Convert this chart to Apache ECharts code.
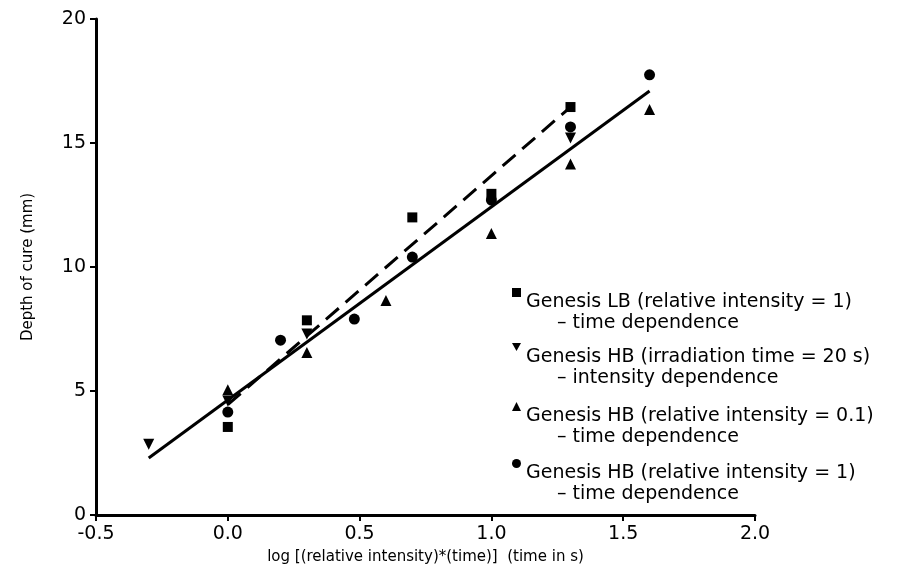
<!DOCTYPE html>
<html>
<head>
<meta charset="utf-8">
<script src="https://cdn.jsdelivr.net/npm/echarts@6/dist/echarts.min.js"></script>
<style>
  html, body { margin: 0; padding: 0; background: #fff; }
  #chart { width: 901px; height: 573px; }
</style>
</head>
<body>
<div id="chart"></div>
<script>
// Depth of cure versus log of light dose, four Genesis series plus two fit lines.
const seriesNames = [
  'Genesis LB (relative intensity = 1)',
  'Genesis HB (irradiation time = 20 s)',
  'Genesis HB (relative intensity = 0.1)',
  'Genesis HB (relative intensity = 1)'
];
const seriesSubtitles = [
  '– time dependence',
  '– intensity dependence',
  '– time dependence',
  '– time dependence'
];

// Genesis LB, relative intensity 1 (squares)
const lbTimeX = [0.0, 0.3, 0.7, 1.0, 1.3];
const lbTimeY = [3.55, 7.85, 12.0, 12.95, 16.45];
// Genesis HB, 20 s irradiation, varying intensity (down triangles)
const hbIntensityX = [-0.3, 0.0, 0.3, 1.3];
const hbIntensityY = [2.85, 4.6, 7.3, 15.2];
// Genesis HB, relative intensity 0.1 (up triangles)
const hbLowX = [0.0, 0.3, 0.6, 1.0, 1.3, 1.6];
const hbLowY = [5.05, 6.55, 8.65, 11.35, 14.15, 16.35];
// Genesis HB, relative intensity 1 (circles)
const hbHighX = [0.0, 0.2, 0.48, 0.7, 1.0, 1.3, 1.6];
const hbHighY = [4.15, 7.05, 7.9, 10.4, 12.7, 15.65, 17.75];

// Regression lines: dashed for Genesis LB, solid for all HB data
const fitLBX = [0.0, 1.3];
const fitLBY = [4.45, 16.45];
const fitAllX = [-0.3, 1.6];
const fitAllY = [2.3, 17.1];

const xTicks = [-0.5, 0.0, 0.5, 1.0, 1.5, 2.0];
const yTicks = [0, 5, 10, 15, 20];

const FONT = 'DejaVu Sans';
const pairs = (xs, ys) => xs.map((x, i) => [x, ys[i]]);

const DOWN_TRIANGLE = 'path://M0,0L10,0L5,9Z';
const markers = [
  { symbol: 'rect', icon: 'rect', size: 10, rotate: 0, x: lbTimeX, y: lbTimeY },
  { symbol: 'triangle', icon: DOWN_TRIANGLE, size: 11, rotate: 180, x: hbIntensityX, y: hbIntensityY },
  { symbol: 'triangle', icon: 'triangle', size: 11, rotate: 0, x: hbLowX, y: hbLowY },
  { symbol: 'circle', icon: 'circle', size: 11, rotate: 0, x: hbHighX, y: hbHighY }
];

const scatterSeries = markers.map((m, i) => ({
  name: seriesNames[i],
  type: 'scatter',
  symbol: m.symbol,
  symbolSize: m.size,
  symbolRotate: m.rotate,
  itemStyle: { color: '#000', opacity: 1 },
  data: pairs(m.x, m.y),
  z: 5
}));

const lineSeries = [
  {
    name: 'fit LB',
    type: 'line',
    data: pairs(fitLBX, fitLBY),
    showSymbol: false,
    lineStyle: { color: '#000', width: 3, type: [17, 9] },
    silent: true,
    z: 3
  },
  {
    name: 'fit all',
    type: 'line',
    data: pairs(fitAllX, fitAllY),
    showSymbol: false,
    lineStyle: { color: '#000', width: 3 },
    silent: true,
    z: 3
  }
];

const legendTops = [288, 343, 402, 459];
const legends = seriesNames.map((name, i) => ({
  data: [{ name: name, icon: markers[i].icon, itemStyle: { color: '#000', opacity: 1 } }],
  left: 512,
  top: legendTops[i],
  padding: 0,
  itemWidth: 9,
  itemHeight: 9,
  selectedMode: false,
  formatter: n => '{a|' + n + '}\n{b|' + seriesSubtitles[i] + '}',
  textStyle: {
    padding: [41, 0, 0, 0],
    fontFamily: FONT,
    fontSize: 19,
    color: '#000',
    rich: {
      a: { fontFamily: FONT, fontSize: 19, lineHeight: 21, color: '#000' },
      b: { fontFamily: FONT, fontSize: 19, lineHeight: 21, color: '#000', padding: [0, 0, 0, 31] }
    }
  }
}));

const chart = echarts.init(document.getElementById('chart'), null, { renderer: 'canvas' });
chart.setOption({
  backgroundColor: '#fff',
  animation: false,
  grid: { left: 96, right: 146, top: 19, bottom: 58 },
  legend: legends,
  xAxis: {
    type: 'value',
    min: xTicks[0],
    max: xTicks[xTicks.length - 1],
    interval: 0.5,
    name: 'log [(relative intensity)*(time)]  (time in s)',
    nameLocation: 'middle',
    nameGap: 35,
    nameTextStyle: { fontFamily: FONT, fontSize: 15, color: '#000' },
    axisLine: { onZero: false, lineStyle: { color: '#000', width: 3 } },
    axisTick: { length: 6, lineStyle: { color: '#000', width: 2 } },
    axisLabel: { fontFamily: FONT, fontSize: 19, color: '#000', margin: 10, formatter: v => v.toFixed(1) },
    splitLine: { show: false }
  },
  yAxis: {
    type: 'value',
    min: yTicks[0],
    max: yTicks[yTicks.length - 1],
    interval: 5,
    name: 'Depth of cure (mm)',
    nameLocation: 'middle',
    nameGap: 60,
    nameTextStyle: { fontFamily: FONT, fontSize: 15, color: '#000' },
    axisLine: { onZero: false, lineStyle: { color: '#000', width: 3 } },
    axisTick: { length: 6, lineStyle: { color: '#000', width: 2 } },
    axisLabel: { fontFamily: FONT, fontSize: 19, color: '#000', margin: 10 },
    splitLine: { show: false }
  },
  series: lineSeries.concat(scatterSeries)
});
</script>
</body>
</html>
